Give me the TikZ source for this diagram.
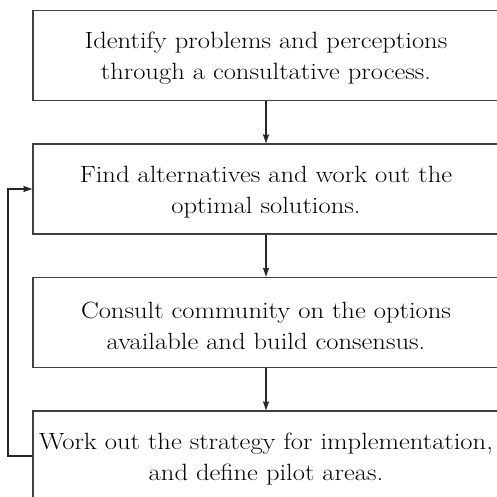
\documentclass[tikz,border=0pt]{standalone}
\usepackage{fontspec}
\setmainfont{Latin Modern Roman}[FakeStretch=1.13]
\usetikzlibrary{arrows.meta}
\begin{document}
\begin{tikzpicture}[x=1pt,y=-1pt,
  stepbox/.style={draw=black!75, line width=1.3pt, rectangle, minimum width=466pt, minimum height=90pt,
    inner sep=0pt},
  steptext/.style={align=center, inner sep=0pt, text=black, font=\fontsize{23.5}{31}\selectfont},
  conn/.style={draw=black!85, line width=1.2pt, -{Stealth[length=9pt,width=6pt,inset=1pt]}}]
\useasboundingbox (0,0) rectangle (497,497);
\begin{scope}
\clip (0,0) rectangle (497,497);
\node[stepbox] (b1) at (266,55.5) {};
\node[stepbox] (b2) at (266,189) {};
\node[stepbox] (b3) at (266,322.5) {};
\node[stepbox] (b4) at (266,456) {};
\end{scope}
\node[steptext] (t1) at ([yshift=-3pt]b1.center) {Identify problems and perceptions\\through a consultative process.};
\node[steptext] (t2) at ([yshift=-3pt]b2.center) {Find alternatives and work out the\\optimal solutions.};
\node[steptext] (t3) at ([yshift=-3pt]b3.center) {Consult community on the options\\available and build consensus.};
\node[steptext] (t4) at ([yshift=-3pt]b4.center) {Work out the strategy for implementation,\\and define pilot areas.};
\draw[conn] (b1.south) -- (b2.north);
\draw[conn] (b2.south) -- (b3.north);
\draw[conn] (b3.south) -- (b4.north);
\coordinate (fb) at (8,0);
\draw[conn] (b4.west) -- (b4.west -| fb) -- (b2.west -| fb) -- (b2.west);
\end{tikzpicture}
\end{document}
